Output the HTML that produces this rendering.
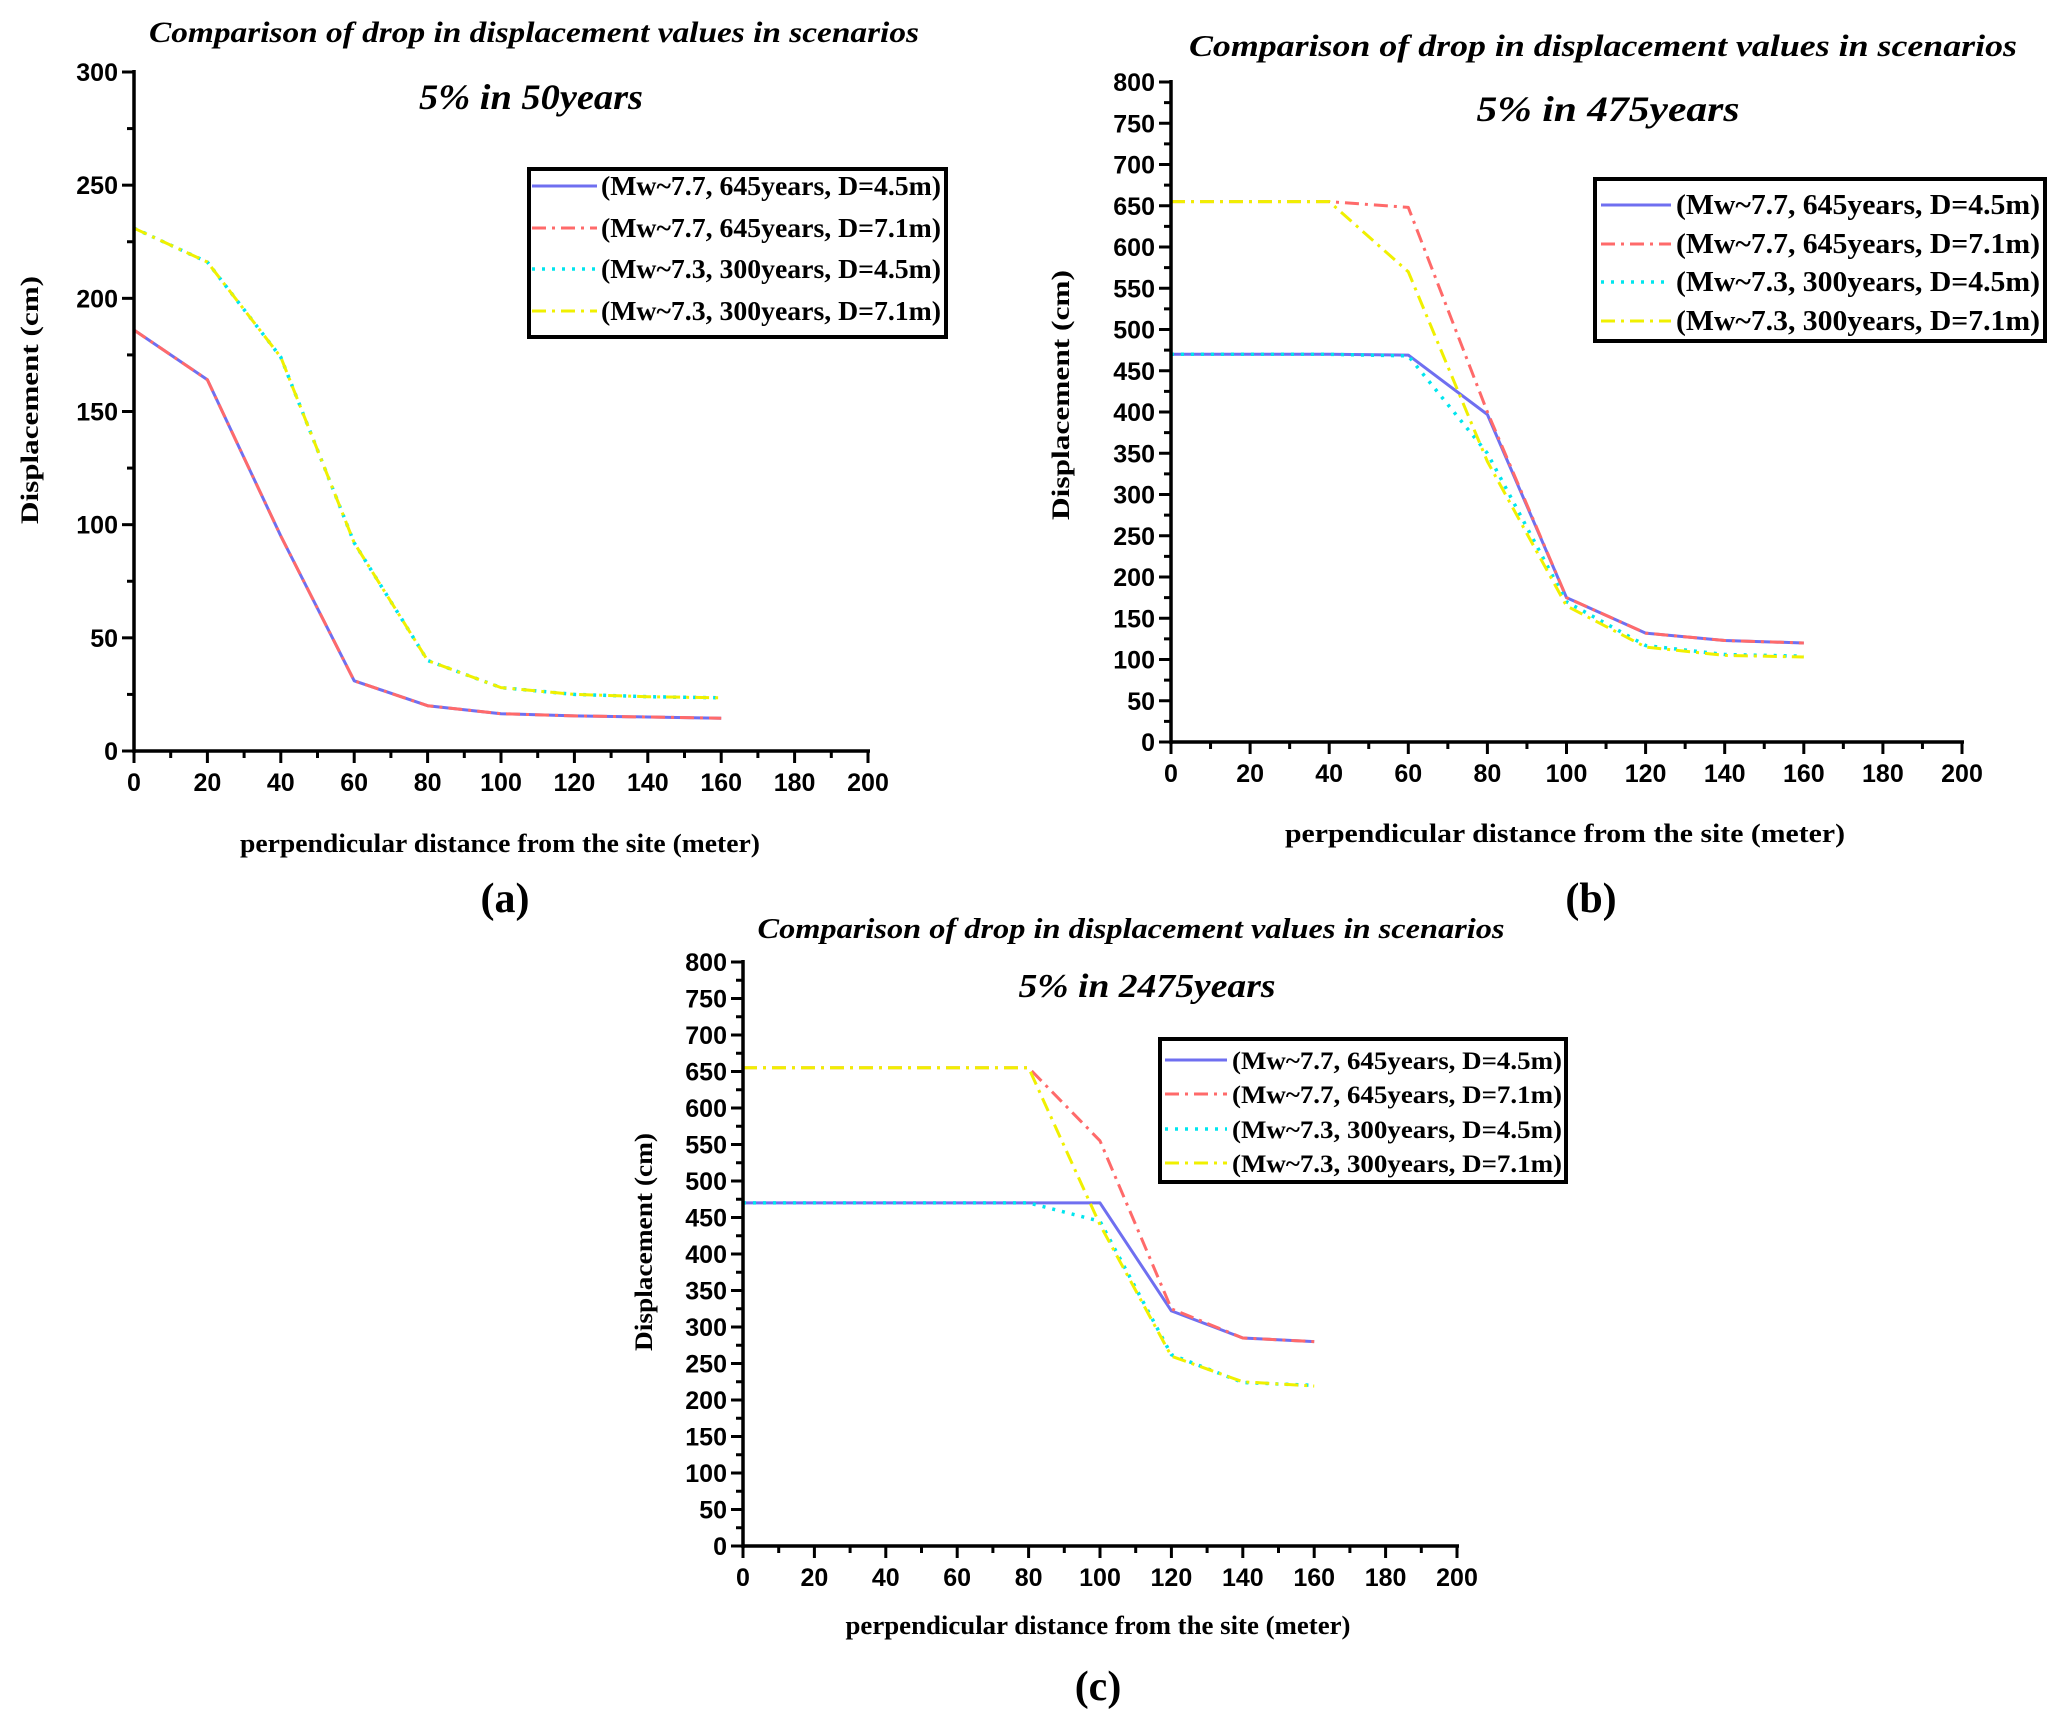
<!DOCTYPE html>
<html><head><meta charset="utf-8">
<style>
html,body{margin:0;padding:0;background:#fff;}
svg{display:block;}
.tick{font-family:"Liberation Sans",sans-serif;font-weight:bold;font-size:25px;fill:#000;}
.ttl{font-family:"Liberation Serif",serif;font-weight:bold;font-style:italic;fill:#000;}
.lab{font-family:"Liberation Serif",serif;font-weight:bold;fill:#000;}
</style></head>
<body>
<svg id="fig" width="2067" height="1726" viewBox="0 0 2067 1726" xmlns="http://www.w3.org/2000/svg"></svg>
<script>
const xValues = [0,20,40,60,80,100,120,140,160];
const seriesNames = ["(Mw~7.7, 645years, D=4.5m)","(Mw~7.7, 645years, D=7.1m)","(Mw~7.3, 300years, D=4.5m)","(Mw~7.3, 300years, D=7.1m)"];
// panel a: 5% in 50years
const a_blue = [186,164,95,31,20,16.5,15.5,15,14.5];
const a_red = [186,164,95,31,20,16.5,15.5,15,14.5];
const a_cyan = [231,216,174,92,40,28,25,24,23.5];
const a_yellow = [231,216,174,92,40,28,25,24,23.5];
// panel b: 5% in 475years
const b_blue = [470,470,470,469,397,175,132,123,120];
const b_red = [655,655,655,648,400,175,132,123,120];
const b_cyan = [470,470,470,468,350,170,117,106,104];
const b_yellow = [655,655,655,570,340,165,115,105,103];
// panel c: 5% in 2475years
const c_blue = [470,470,470,470,470,470,322,285,280];
const c_red = [655,655,655,655,655,555,325,285,280];
const c_cyan = [470,470,470,470,470,445,262,224,220];
const c_yellow = [655,655,655,655,655,440,260,225,219];
const xTicks = [0,20,40,60,80,100,120,140,160,180,200];
const yTicksA = [0,50,100,150,200,250,300];
const yTicksB = [0,50,100,150,200,250,300,350,400,450,500,550,600,650,700,750,800];

const NS="http://www.w3.org/2000/svg";
const svg=document.getElementById('fig');
function el(tag,attrs,parent,txt){const e=document.createElementNS(NS,tag);for(const k in attrs)e.setAttribute(k,attrs[k]);if(txt!==undefined)e.textContent=txt;(parent||svg).appendChild(e);return e;}

const styles=[
 {stroke:"#6f6ff0",dash:"",w:3},
 {stroke:"#ff6a6a",dash:"14 6 3 6",w:3},
 {stroke:"#00e5ee",dash:"3 7",w:3.5},
 {stroke:"#f0f000",dash:"14 6 3 6",w:3},
];

const panels=[
 {id:"a",sub:"5% in 50years",x0:134,x1:868,y0:751,y1:72,ymax:300,yt:yTicksA,yminor:25,
  data:[a_blue,a_red,a_cyan,a_yellow],
  title:{x:534,y:42,w:770,fs:30},subt:{x:531,y:109,w:224,fs:36},
  leg:{x:529,y:169,w:417,h:168,lx0:532,lx1:597,tx:601,tw:340,rows:[195,237,278,320],fs:27},
  ylab:{x:38,y:400,len:248},xlab:{x:500,y:852,w:520},tag:{x:505,y:912}},
 {id:"b",sub:"5% in 475years",x0:1171,x1:1962,y0:742,y1:82,ymax:800,yt:yTicksB,yminor:25,
  data:[b_blue,b_red,b_cyan,b_yellow],
  title:{x:1603,y:56,w:828,fs:31},subt:{x:1608,y:121,w:263,fs:36},
  leg:{x:1595,y:179,w:450,h:162,lx0:1601,lx1:1671,tx:1676,tw:364,rows:[214,253,291,330],fs:28},
  ylab:{x:1069,y:395,len:250},xlab:{x:1565,y:842,w:560},tag:{x:1591,y:912}},
 {id:"c",sub:"5% in 2475years",x0:743,x1:1457,y0:1546,y1:962,ymax:800,yt:yTicksB,yminor:25,
  data:[c_blue,c_red,c_cyan,c_yellow],
  title:{x:1131,y:938,w:747,fs:29},subt:{x:1147,y:997,w:257,fs:34},
  leg:{x:1160,y:1039,w:406,h:143,lx0:1165,lx1:1227,tx:1232,tw:330,rows:[1069,1103,1138,1172],fs:25},
  ylab:{x:652,y:1242,len:218},xlab:{x:1098,y:1634,w:505},tag:{x:1098,y:1700}},
];

panels.forEach(p=>{
 const g=el('g',{});
 
 
 const sx=v=>p.x0+(v/200)*(p.x1-p.x0);
 const sy=v=>p.y0-(v/p.ymax)*(p.y0-p.y1);
 const t=el('text',{class:'ttl',x:p.title.x,y:p.title.y,'text-anchor':'middle','font-size':p.title.fs,textLength:p.title.w,lengthAdjust:'spacingAndGlyphs'},g,"Comparison of drop in displacement values in scenarios");
  
 const st=el('text',{class:'ttl',x:p.subt.x,y:p.subt.y,'text-anchor':'middle','font-size':p.subt.fs,textLength:p.subt.w,lengthAdjust:'spacingAndGlyphs'},g,p.sub);
  
 p.data.forEach((arr,i)=>{
  const pts=arr.map((v,j)=>sx(xValues[j]).toFixed(1)+','+sy(v).toFixed(1)).join(' ');
  const s=styles[i];
  const pl=el('polyline',{points:pts,fill:'none',stroke:s.stroke,'stroke-width':s.w,'stroke-dasharray':s.dash,'stroke-linejoin':'round'},g);
   
 });
 const ax=el('g',{},g);
  
 el('line',{x1:p.x0,y1:p.y0,x2:p.x1+2,y2:p.y0,stroke:'#000','stroke-width':3.5},ax);
 el('line',{x1:p.x0,y1:p.y0+2,x2:p.x0,y2:p.y1-2,stroke:'#000','stroke-width':3.5},ax);
 for(let v=0;v<=200;v+=10){
  const major=v%20===0;
  el('line',{x1:sx(v),y1:p.y0,x2:sx(v),y2:p.y0+(major?12:7),stroke:'#000','stroke-width':3},ax);
 }
 xTicks.forEach(v=>{
  const tx=el('text',{class:'tick',x:sx(v),y:p.y0+40,'text-anchor':'middle'},ax,String(v));
   
 });
 for(let v=0;v<=p.ymax;v+=p.yminor){
  const major=v%50===0;
  el('line',{x1:p.x0,y1:sy(v),x2:p.x0-(major?12:7),y2:sy(v),stroke:'#000','stroke-width':3},ax);
 }
 p.yt.forEach(v=>{
  const ty=el('text',{class:'tick',x:p.x0-16,y:sy(v)+9,'text-anchor':'end'},ax,String(v));
   
 });
 const yl=el('text',{class:'lab',x:0,y:0,'text-anchor':'middle','font-size':25,textLength:p.ylab.len,lengthAdjust:'spacingAndGlyphs',transform:`translate(${p.ylab.x},${p.ylab.y}) rotate(-90)`},g,"Displacement (cm)");
  
 const xl=el('text',{class:'lab',x:p.xlab.x,y:p.xlab.y,'text-anchor':'middle','font-size':26,textLength:p.xlab.w,lengthAdjust:'spacingAndGlyphs'},g,"perpendicular distance from the site (meter)");
  
 const tg=el('text',{class:'lab',x:p.tag.x,y:p.tag.y,'text-anchor':'middle','font-size':42},g,"("+p.id+")");
  
 const L=p.leg;
 const lg=el('g',{},g);
  
 el('rect',{x:L.x,y:L.y,width:L.w,height:L.h,fill:'#fff',stroke:'#000','stroke-width':4},lg);
 seriesNames.forEach((n,i)=>{
  const s=styles[i];
  const e=el('g',{},lg);
   
  el('line',{x1:L.lx0,y1:L.rows[i]-9,x2:L.lx1,y2:L.rows[i]-9,stroke:s.stroke,'stroke-width':s.w,'stroke-dasharray':s.dash},e);
  el('text',{class:'lab',x:L.tx,y:L.rows[i],'font-size':L.fs,textLength:L.tw,lengthAdjust:'spacingAndGlyphs'},e,n);
 });
});
</script>
</body></html>
